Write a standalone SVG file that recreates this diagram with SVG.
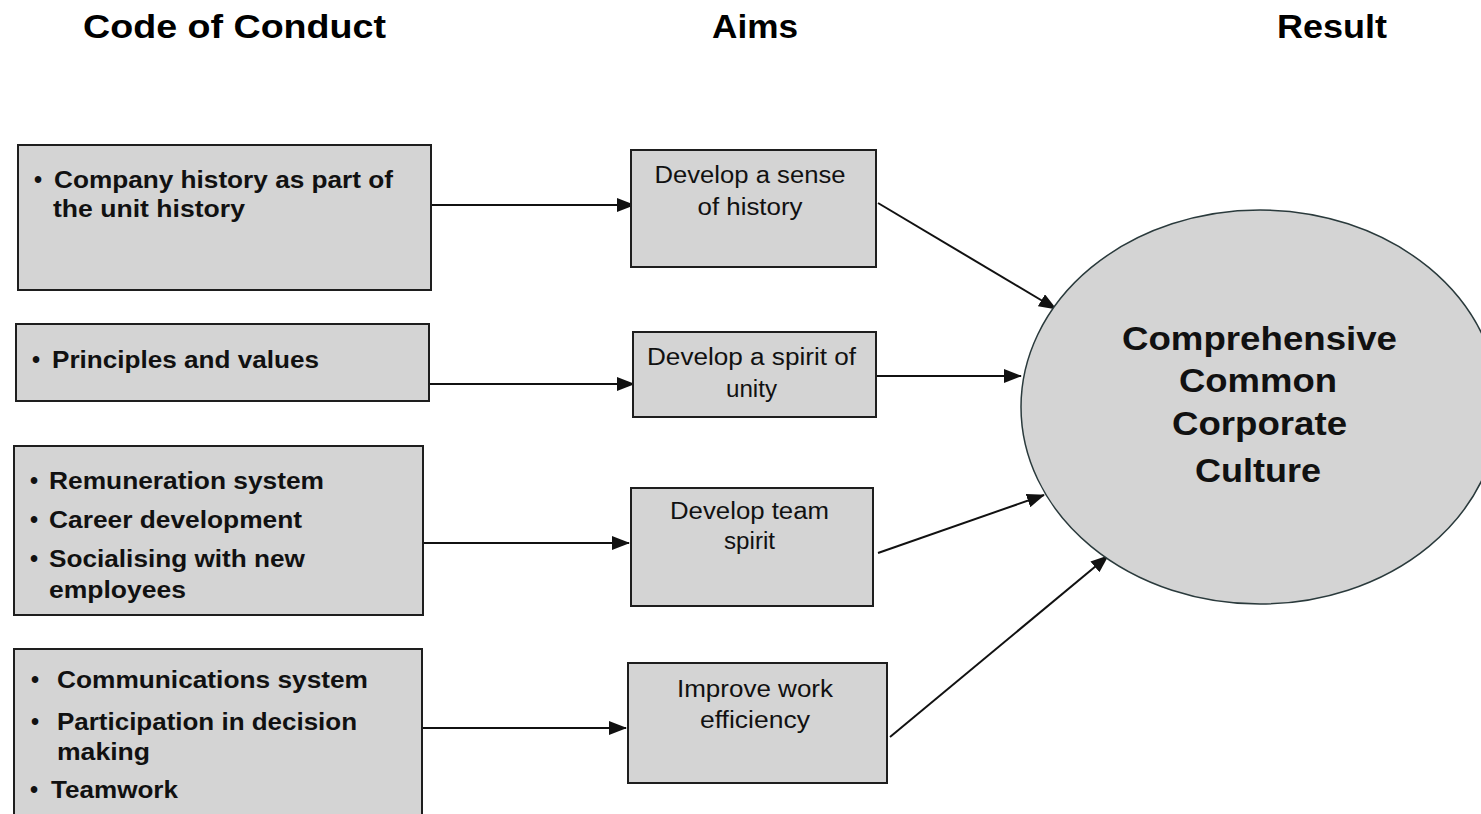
<svg xmlns="http://www.w3.org/2000/svg" width="1481" height="814" viewBox="0 0 1481 814">
  <style>
    .box { fill: #d4d4d4; stroke: #1e1e1e; stroke-width: 2; }
    .oval { fill: #d4d4d4; stroke: #2a3a3c; stroke-width: 1.5; }
    .head { font-family: "Liberation Sans", Arial, sans-serif; font-size: 34px; font-weight: bold; fill: #000; }
    .item { font-family: "Liberation Sans", Arial, sans-serif; font-size: 23px; font-weight: bold; fill: #111; }
    .aim { font-family: "Liberation Sans", Arial, sans-serif; font-size: 23px; fill: #111; text-anchor: middle; }
    .result { font-family: "Liberation Sans", Arial, sans-serif; font-size: 34px; font-weight: bold; fill: #111; text-anchor: middle; }
    .link { stroke: #111; stroke-width: 2; fill: none; marker-end: url(#arrow); }
  </style>
  <defs>
    <marker id="arrow" markerUnits="userSpaceOnUse" markerWidth="18" markerHeight="14" refX="17" refY="7" orient="auto">
      <path d="M0,0 L18,7 L0,14 Z" fill="#111"/>
    </marker>
  </defs>

  <rect width="1481" height="814" fill="#fff"/>

  <!-- Column headings -->
  <g id="headings">
    <text class="head" x="83" y="38" textLength="303" lengthAdjust="spacingAndGlyphs">Code of Conduct</text>
    <text class="head" x="712" y="38" textLength="86" lengthAdjust="spacingAndGlyphs">Aims</text>
    <text class="head" x="1277" y="38" textLength="110" lengthAdjust="spacingAndGlyphs">Result</text>
  </g>

  <!-- Connectors -->
  <g id="connectors">
    <line class="link" x1="432" y1="205" x2="634" y2="205"/>
    <line class="link" x1="430" y1="384" x2="634" y2="384"/>
    <line class="link" x1="424" y1="543" x2="629" y2="543"/>
    <line class="link" x1="423" y1="728" x2="626" y2="728"/>
    <line class="link" x1="878" y1="203" x2="1056" y2="309"/>
    <line class="link" x1="877" y1="376" x2="1021" y2="376"/>
    <line class="link" x1="878" y1="553" x2="1044" y2="495"/>
    <line class="link" x1="890" y1="737" x2="1108" y2="556"/>
  </g>

  <!-- Code of Conduct items -->
  <g id="conduct-history">
    <rect class="box" x="18" y="145" width="413" height="145"/>
    <text class="item" x="34" y="188">•</text>
    <text class="item" x="54" y="188" textLength="339" lengthAdjust="spacingAndGlyphs">Company history as part of</text>
    <text class="item" x="53" y="217" textLength="192" lengthAdjust="spacingAndGlyphs">the unit history</text>
  </g>

  <g id="conduct-principles">
    <rect class="box" x="16" y="324" width="413" height="77"/>
    <text class="item" x="32" y="368">•</text>
    <text class="item" x="52" y="368" textLength="267" lengthAdjust="spacingAndGlyphs">Principles and values</text>
  </g>

  <g id="conduct-people">
    <rect class="box" x="14" y="446" width="409" height="169"/>
    <text class="item" x="30" y="489">•</text>
    <text class="item" x="49" y="489" textLength="275" lengthAdjust="spacingAndGlyphs">Remuneration system</text>
    <text class="item" x="30" y="528">•</text>
    <text class="item" x="49" y="528" textLength="253" lengthAdjust="spacingAndGlyphs">Career development</text>
    <text class="item" x="30" y="567">•</text>
    <text class="item" x="49" y="567" textLength="256" lengthAdjust="spacingAndGlyphs">Socialising with new</text>
    <text class="item" x="49" y="598" textLength="137" lengthAdjust="spacingAndGlyphs">employees</text>
  </g>

  <g id="conduct-communication">
    <rect class="box" x="14" y="649" width="408" height="180"/>
    <text class="item" x="31" y="688">•</text>
    <text class="item" x="57" y="688" textLength="311" lengthAdjust="spacingAndGlyphs">Communications system</text>
    <text class="item" x="31" y="730">•</text>
    <text class="item" x="57" y="730" textLength="300" lengthAdjust="spacingAndGlyphs">Participation in decision</text>
    <text class="item" x="57" y="760" textLength="93" lengthAdjust="spacingAndGlyphs">making</text>
    <text class="item" x="30" y="798">•</text>
    <text class="item" x="51" y="798" textLength="127" lengthAdjust="spacingAndGlyphs">Teamwork</text>
  </g>

  <!-- Aims -->
  <g id="aim-history">
    <rect class="box" x="631" y="150" width="245" height="117"/>
    <text class="aim" x="750" y="183" textLength="191" lengthAdjust="spacingAndGlyphs">Develop a sense</text>
    <text class="aim" x="750" y="215" textLength="105" lengthAdjust="spacingAndGlyphs">of history</text>
  </g>

  <g id="aim-unity">
    <rect class="box" x="633" y="332" width="243" height="85"/>
    <text class="aim" x="751.5" y="365" textLength="209" lengthAdjust="spacingAndGlyphs">Develop a spirit of</text>
    <text class="aim" x="751.5" y="397" textLength="51" lengthAdjust="spacingAndGlyphs">unity</text>
  </g>

  <g id="aim-team">
    <rect class="box" x="631" y="488" width="242" height="118"/>
    <text class="aim" x="749.5" y="519" textLength="159" lengthAdjust="spacingAndGlyphs">Develop team</text>
    <text class="aim" x="749.5" y="549" textLength="51" lengthAdjust="spacingAndGlyphs">spirit</text>
  </g>

  <g id="aim-efficiency">
    <rect class="box" x="628" y="663" width="259" height="120"/>
    <text class="aim" x="755" y="697" textLength="156" lengthAdjust="spacingAndGlyphs">Improve work</text>
    <text class="aim" x="755" y="728" textLength="110" lengthAdjust="spacingAndGlyphs">efficiency</text>
  </g>

  <!-- Result -->
  <g id="result-culture">
    <ellipse class="oval" cx="1260" cy="407" rx="239" ry="197"/>
    <text class="result" x="1259.5" y="350" textLength="275" lengthAdjust="spacingAndGlyphs">Comprehensive</text>
    <text class="result" x="1258" y="392" textLength="158" lengthAdjust="spacingAndGlyphs">Common</text>
    <text class="result" x="1259.5" y="435" textLength="175" lengthAdjust="spacingAndGlyphs">Corporate</text>
    <text class="result" x="1258" y="482" textLength="126" lengthAdjust="spacingAndGlyphs">Culture</text>
  </g>
</svg>
